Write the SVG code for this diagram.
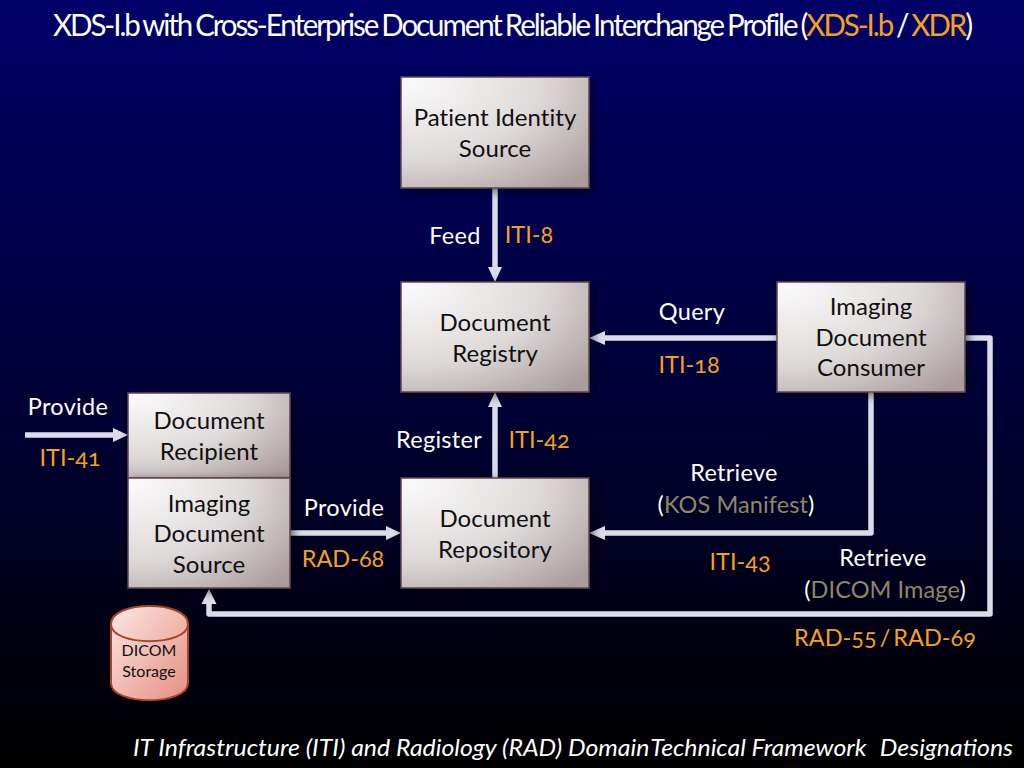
<svg xmlns="http://www.w3.org/2000/svg" width="1024" height="768" viewBox="0 0 1024 768">
<style>
text{font-family:"Lato","Open Sans",sans-serif;text-anchor:middle;font-variant-numeric:oldstyle-nums}
.n{font-size:24px;fill:#101010;letter-spacing:.05px}
.w{font-size:23.5px;fill:#fff;letter-spacing:.3px}
.o{font-size:23.5px;fill:#f4a11f;letter-spacing:0}
.g{fill:#8f8668}
.b{fill:url(#bx);stroke:#5f4450;stroke-width:1.5;filter:url(#sh)}
.c{fill:none;stroke:#dcdce8;stroke-width:5.5;stroke-linejoin:round}
.h{fill:#dcdce8}
</style>
<defs>
<linearGradient id="bg" x1="0" y1="0" x2="0" y2="1"><stop offset="0" stop-color="#000068"/><stop offset=".5" stop-color="#000038"/><stop offset="1" stop-color="#000000"/></linearGradient>
<radialGradient id="bx" cx="0.05" cy="0.05" r="1.25"><stop offset="0" stop-color="#faf9f9"/><stop offset=".55" stop-color="#dfdada"/><stop offset="1" stop-color="#aa9c9c"/></radialGradient>
<linearGradient id="cy" x1="0" y1="0" x2="1" y2="1"><stop offset="0" stop-color="#fbe8e3"/><stop offset="1" stop-color="#e58e80"/></linearGradient>
<filter id="sh" x="-15%" y="-15%" width="130%" height="130%"><feDropShadow dx="3" dy="3" stdDeviation="5" flood-color="#000" flood-opacity=".55"/></filter>
</defs>
<rect width="1024" height="768" fill="url(#bg)"/>
<text id="title" x="512" y="36" font-size="30" fill="#fff" style="letter-spacing:-2.1px;word-spacing:-1.5px" textLength="918" lengthAdjust="spacingAndGlyphs">XDS-I.b with Cross-Enterprise Document Reliable Interchange Profile (<tspan fill="#f4a11f">XDS-I.b</tspan> / <tspan fill="#f4a11f">XDR</tspan>)</text>
<g id="connectors">
<path class="c" d="M495 188V268"/><polygon class="h" points="488,267 502,267 495,282"/>
<path class="c" d="M777 338H604"/><polygon class="h" points="605,331 605,345 589,338"/>
<path class="c" d="M495 478V406"/><polygon class="h" points="488,407 502,407 495,392"/>
<path class="c" d="M25 435H114"/><polygon class="h" points="113,428 113,442 128,435"/>
<path class="c" d="M290 533H387"/><polygon class="h" points="386,526 386,540 401,533"/>
<path class="c" d="M871 392V533H604"/><polygon class="h" points="605,526 605,540 589,533"/>
<path class="c" d="M965 338H990V614H209V603"/><polygon class="h" points="201.500,604 216.500,604 209,589"/>
</g>
<g id="patient-identity-source"><rect class="b" x="401" y="77" width="188" height="111"/><text class="n" x="495" y="126">Patient Identity</text><text class="n" x="495" y="157">Source</text></g>
<g id="document-registry"><rect class="b" x="401" y="282" width="188" height="110"/><text class="n" x="495" y="331">Document</text><text class="n" x="495" y="362">Registry</text></g>
<g id="document-repository"><rect class="b" x="401" y="478" width="188" height="110"/><text class="n" x="495" y="527">Document</text><text class="n" x="495" y="558">Repository</text></g>
<g id="imaging-document-consumer"><rect class="b" x="777" y="282" width="188" height="110"/><text class="n" x="871" y="315">Imaging</text><text class="n" x="871" y="346">Document</text><text class="n" x="871" y="376">Consumer</text></g>
<g id="document-recipient"><rect class="b" x="128" y="393" width="162" height="85"/><text class="n" x="209" y="429">Document</text><text class="n" x="209" y="460">Recipient</text></g>
<g id="imaging-document-source"><rect class="b" x="128" y="478" width="162" height="110"/><text class="n" x="209" y="512">Imaging</text><text class="n" x="209" y="542">Document</text><text class="n" x="209" y="573">Source</text></g>
<g id="dicom-storage"><path d="M111 624C111 600 188 600 188 624V683C188 706 111 706 111 683Z" fill="url(#cy)" stroke="#a8432c" stroke-width="2"/><path d="M111 624C111 647 188 647 188 624" fill="none" stroke="#a8432c" stroke-width="2"/><text x="149" y="656" font-size="16" fill="#101010">DICOM</text><text x="149" y="677" font-size="16" fill="#101010">Storage</text></g>
<g id="labels">
<text class="w" x="455" y="244">Feed</text><text class="o" x="529" y="243">ITI-8</text>
<text class="w" x="692" y="320">Query</text><text class="o" x="689" y="373">ITI-18</text>
<text class="w" x="439" y="448">Register</text><text class="o" x="539" y="448">ITI-42</text>
<text class="w" x="68" y="415">Provide</text><text class="o" x="70" y="466">ITI-41</text>
<text class="w" x="344" y="516">Provide</text><text class="o" x="343" y="567">RAD-68</text>
<text class="w" x="734" y="481">Retrieve</text><text class="w" x="736" y="513" style="letter-spacing:.1px">(<tspan class="g">KOS Manifest</tspan>)</text><text class="o" x="740" y="570">ITI-43</text>
<text class="w" x="883" y="566">Retrieve</text><text class="w" x="885" y="598" style="letter-spacing:.1px">(<tspan class="g">DICOM Image</tspan>)</text><text class="o" x="885" y="646" style="word-spacing:-3px">RAD-55 / RAD-69</text>
<text id="footer" x="573" y="756" font-size="23.5" font-style="italic" fill="#fff" textLength="880" lengthAdjust="spacingAndGlyphs">IT Infrastructure (ITI) and Radiology (RAD) Domain<tspan dx="-4"> Technical</tspan> Framework <tspan dx="7">Designations</tspan></text>
</g>
</svg>
